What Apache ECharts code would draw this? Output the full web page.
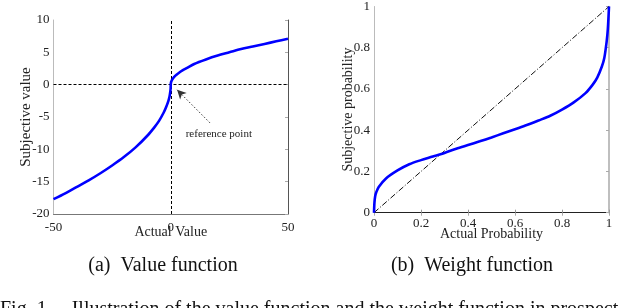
<!DOCTYPE html>
<html>
<head>
<meta charset="utf-8">
<script src="https://cdn.jsdelivr.net/npm/echarts@6/dist/echarts.min.js"></script>
<style>
html,body{margin:0;padding:0;background:#fff;}
#c{width:640px;height:308px;}
</style>
</head>
<body>
<div id="c"></div>
<script>
// ---- Data ----
// (a) Value function
const valueX = [-50,-45,-40,-35,-30,-25,-20,-15,-10,-7,-5,-3,-2,-1,-0.5,-0.2,-0.05,0,0.05,0.2,0.5,1,2,3,5,7,10,15,20,25,30,35,40,45,50];
const valueY = [-17.7,-16.8,-15.8,-14.8,-13.7,-12.5,-11.2,-9.7,-7.9,-6.6,-5.6,-4.3,-3.5,-2.5,-1.8,-1.1,-0.56,0,0.22,0.45,0.7,1.0,1.4,1.7,2.2,2.6,3.2,3.9,4.5,5.0,5.5,5.9,6.3,6.7,7.1];
const valueXTicks = [-50, 0, 50];
const refArrowFrom = [16.7, -5.9];
const refArrowTo = [2.7, -0.8];
const refLabelAt = [20.5, -7.6];
const refLabel = 'reference point';

// (b) Weight function
const probX = [0,0.002,0.005,0.01,0.02,0.05,0.1,0.15,0.2,0.25,0.3,0.35,0.4,0.45,0.5,0.55,0.6,0.65,0.7,0.75,0.8,0.85,0.9,0.93,0.95,0.97,0.98,0.99,0.995,1];
const probW = [0,0.05,0.08,0.1,0.125,0.165,0.205,0.235,0.255,0.272,0.29,0.31,0.328,0.346,0.365,0.385,0.405,0.425,0.447,0.47,0.5,0.535,0.58,0.62,0.655,0.71,0.75,0.83,0.89,1.0];
const diagX = [0, 1];
const diagY = [0, 1];

const captionA = '(a)  Value function';
const captionB = '(b)  Weight function';
const figCaption = 'Fig. 1.    Illustration of the value function and the weight function in prospect';

const serif = 'Liberation Serif';
const chart = echarts.init(document.getElementById('c'), null, {renderer: 'canvas'});

function zip(a, b) { return a.map((v, i) => [v, b[i]]); }
const probFmt = v => (v === 0 || v === 1) ? String(v) : v.toFixed(1);

const option = {
  animation: false,
  backgroundColor: '#fff',
  textStyle: {fontFamily: serif},
  grid: [
    {left: 53.5, top: 20, width: 234.5, height: 194},
    {left: 374, top: 5, width: 235, height: 207.7}
  ],
  xAxis: [
    {gridIndex: 0, type: 'value', min: -50, max: 50, interval: 50,
     name: 'Actual Value', nameLocation: 'middle', nameGap: 11, nameMoveOverlap: false,
     nameTextStyle: {fontFamily: serif, fontSize: 14, color: '#222'},
     axisLine: {show: true, onZero: false, lineStyle: {color: '#777', width: 1}},
     axisTick: {show: false},
     axisLabel: {fontFamily: serif, fontSize: 13, color: '#222', margin: 7,
       customValues: valueXTicks},
     splitLine: {show: false}},
    {gridIndex: 1, type: 'value', min: 0, max: 1, interval: 0.2,
     name: 'Actual Probability', nameLocation: 'middle', nameGap: 15, nameMoveOverlap: false,
     nameTextStyle: {fontFamily: serif, fontSize: 14, color: '#222'},
     axisLine: {show: true, onZero: false, lineStyle: {color: '#222', width: 1}},
     axisTick: {show: true, inside: true, length: 3, lineStyle: {color: '#999'}},
     axisLabel: {fontFamily: serif, fontSize: 13, color: '#222', margin: 4, formatter: probFmt},
     splitLine: {show: false}},
    {gridIndex: 1, type: 'value', min: 0, max: 1, interval: 0.2, position: 'top',
     axisLine: {show: false},
     axisTick: {show: true, inside: true, length: 3, lineStyle: {color: '#aaa'}},
     axisLabel: {show: false}, splitLine: {show: false}}
  ],
  yAxis: [
    {gridIndex: 0, type: 'value', min: -20, max: 10, interval: 5,
     name: 'Subjective value', nameLocation: 'middle', nameGap: 20, nameMoveOverlap: false,
     nameTextStyle: {fontFamily: serif, fontSize: 15, color: '#222'},
     axisLine: {show: true, onZero: false, lineStyle: {color: '#bbb', width: 1}},
     axisTick: {show: false},
     axisLabel: {fontFamily: serif, fontSize: 13, color: '#222', margin: 4},
     splitLine: {show: false}},
    {gridIndex: 0, type: 'value', min: -20, max: 10, interval: 5, position: 'right',
     axisLine: {show: true, onZero: false, lineStyle: {color: '#555', width: 1}},
     axisTick: {show: true, inside: true, length: 3, lineStyle: {color: '#aaa'}},
     axisLabel: {show: false}, splitLine: {show: false}},
    {gridIndex: 1, type: 'value', min: 0, max: 1, interval: 0.2,
     name: 'Subjective probability', nameLocation: 'middle', nameGap: 19, nameMoveOverlap: false,
     nameTextStyle: {fontFamily: serif, fontSize: 14, color: '#222'},
     axisLine: {show: true, onZero: false, lineStyle: {color: '#bbb', width: 1}},
     axisTick: {show: false},
     axisLabel: {fontFamily: serif, fontSize: 13, color: '#222', margin: 4, formatter: probFmt},
     splitLine: {show: false}},
    {gridIndex: 1, type: 'value', min: 0, max: 1, interval: 0.2, position: 'right',
     axisLine: {show: true, onZero: false, lineStyle: {color: '#aaa', width: 1.5}},
     axisTick: {show: true, inside: true, length: 3, lineStyle: {color: '#aaa'}},
     axisLabel: {show: false}, splitLine: {show: false}}
  ],
  series: [
    {type: 'line', xAxisIndex: 0, yAxisIndex: 0, data: zip(valueX, valueY),
     showSymbol: false, smooth: 0.3, z: 5,
     lineStyle: {color: '#0000ff', width: 2.6},
     markLine: {silent: true, symbol: 'none', animation: false,
       label: {show: false},
       lineStyle: {color: '#000', type: [3, 2], width: 1},
       data: [{xAxis: 0}, {yAxis: 0}]}},
    {type: 'line', xAxisIndex: 0, yAxisIndex: 0, data: [], showSymbol: false,
     markLine: {silent: true, symbol: ['none', 'arrow'], symbolSize: [7, 9], animation: false,
       label: {show: false},
       lineStyle: {color: '#333', type: [1.5, 2], width: 1},
       data: [[{coord: refArrowFrom}, {coord: refArrowTo}]]},
     markPoint: {silent: true, symbol: 'circle', symbolSize: 0, animation: false,
       label: {show: true, position: 'inside', formatter: refLabel,
         fontFamily: serif, fontSize: 11, color: '#222'},
       data: [{coord: refLabelAt}]}},
    {type: 'line', xAxisIndex: 1, yAxisIndex: 2, data: zip(diagX, diagY),
     showSymbol: false, z: 3,
     lineStyle: {color: '#111', width: 1, type: [6, 2, 1, 2]}},
    {type: 'line', xAxisIndex: 1, yAxisIndex: 2, data: zip(probX, probW),
     showSymbol: false, smooth: 0.3, z: 5,
     lineStyle: {color: '#0000ff', width: 2.6}}
  ],
  graphic: [
    {type: 'text', style: {text: captionA, x: 163, y: 266,
      textAlign: 'center', textVerticalAlign: 'middle',
      font: '20px "Liberation Serif"', fill: '#111'}},
    {type: 'text', style: {text: captionB, x: 472, y: 266,
      textAlign: 'center', textVerticalAlign: 'middle',
      font: '20px "Liberation Serif"', fill: '#111'}},
    {type: 'text', style: {text: figCaption, x: 0, y: 300,
      textAlign: 'left', textVerticalAlign: 'top',
      font: '20px "Liberation Serif"', fill: '#111'}}
  ]
};
chart.setOption(option);
</script>
</body>
</html>
